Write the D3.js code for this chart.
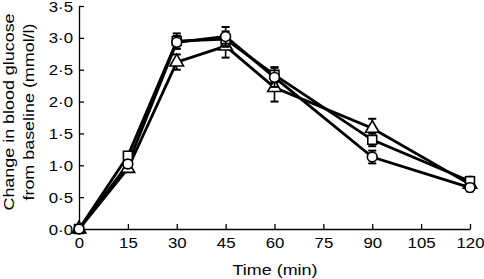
<!DOCTYPE html>
<html><head><meta charset="utf-8">
<script src="https://cdn.jsdelivr.net/npm/d3@7"></script>
<style>body{margin:0;background:#fff}svg{display:block}text{font-family:"Liberation Sans",Arial,sans-serif;fill:#000}</style>
</head><body>
<svg id="c" width="484" height="279"></svg>
<script>
const times = [0, 15, 30, 45, 60, 90, 120];
const squareVals = [0, 1.15, 2.95, 2.98, 2.42, 1.40, 0.75];
const squareErr  = [0, 0.06, 0.12, 0.12, 0.12, 0.10, 0.07];
const circleVals = [0, 1.02, 2.93, 3.02, 2.38, 1.13, 0.65];
const circleErr  = [0, 0.06, 0.10, 0.15, 0.15, 0.10, 0.06];
const triVals    = [0, 0.95, 2.62, 2.87, 2.22, 1.58, 0.70];
const triErr     = [0, 0.05, 0.12, 0.18, 0.22, 0.15, 0.08];
const xTicks = [0, 15, 30, 45, 60, 75, 90, 105, 120];
const yTicks = [0, 0.5, 1, 1.5, 2, 2.5, 3, 3.5];

const FS = 14, SX = 1.2, SXT = 1.28;
const svg = d3.select("#c");
const x = d3.scaleLinear().domain([0, 120]).range([79, 470]);
const y = d3.scaleLinear().domain([0, 3.5]).range([229, 6]);
const fmt = d => d3.format(".1f")(d).replace(".", "·");

const xa = svg.append("g").attr("transform", "translate(0,229)")
  .call(d3.axisBottom(x).tickValues(xTicks).tickSizeInner(-5).tickSizeOuter(0).tickPadding(9));
const ya = svg.append("g").attr("transform", "translate(79,0)")
  .call(d3.axisLeft(y).tickValues(yTicks).tickFormat(fmt).tickSizeInner(-5).tickSizeOuter(0).tickPadding(5));
[xa, ya].forEach(a => {
  a.select(".domain").attr("stroke", "#000").attr("stroke-width", 1.3);
  a.selectAll(".tick line").attr("stroke", "#000").attr("stroke-width", 1.3);
  a.selectAll("text").attr("font-size", FS).attr("transform", `scale(${SX},1)`)
    .style("font-family", '"Liberation Sans",Arial,sans-serif');
});
ya.selectAll("text").attr("dy", "0.36em");

svg.append("text").attr("transform", `translate(275,275) scale(${SXT},1)`).attr("text-anchor", "middle").attr("font-size", FS).text("Time (min)");
svg.append("text").attr("transform", `translate(14,112) rotate(-90) scale(${SXT},1)`).attr("text-anchor", "middle").attr("font-size", FS).text("Change in blood glucose");
svg.append("text").attr("transform", `translate(34,112) rotate(-90) scale(${SXT},1)`).attr("text-anchor", "middle").attr("font-size", FS).text("from baseline (mmol/l)");

const series = [
  {vals: triVals, err: triErr, sym: d3.symbolTriangle, size: 80},
  {vals: squareVals, err: squareErr, sym: d3.symbolSquare, size: 80},
  {vals: circleVals, err: circleErr, sym: d3.symbolCircle, size: 75},
];
const line = d3.line().x(d => x(d.t)).y(d => y(d.v));
series.forEach(s => {
  const pts = times.map((t, i) => ({t, v: s.vals[i], e: s.err[i]}));
  svg.append("path").datum(pts).attr("d", line).attr("fill", "none").attr("stroke", "#000").attr("stroke-width", 2.8);
});
series.forEach(s => {
  const pts = times.map((t, i) => ({t, v: s.vals[i], e: s.err[i]}));
  const g = svg.append("g");
  pts.filter(p => p.e > 0).forEach(p => {
    g.append("line").attr("x1", x(p.t)).attr("x2", x(p.t)).attr("y1", y(p.v - p.e)).attr("y2", y(p.v + p.e)).attr("stroke", "#000").attr("stroke-width", 1.6);
    [p.v - p.e, p.v + p.e].forEach(v => g.append("line").attr("x1", x(p.t) - 4).attr("x2", x(p.t) + 4).attr("y1", y(v)).attr("y2", y(v)).attr("stroke", "#000").attr("stroke-width", 2));
  });
  g.selectAll("path").data(pts).join("path")
    .attr("transform", d => `translate(${x(d.t)},${y(d.v)})`)
    .attr("d", d3.symbol().type(s.sym).size(s.size))
    .attr("fill", "#fff").attr("stroke", "#000").attr("stroke-width", 1.6);
});
</script>
</body></html>
